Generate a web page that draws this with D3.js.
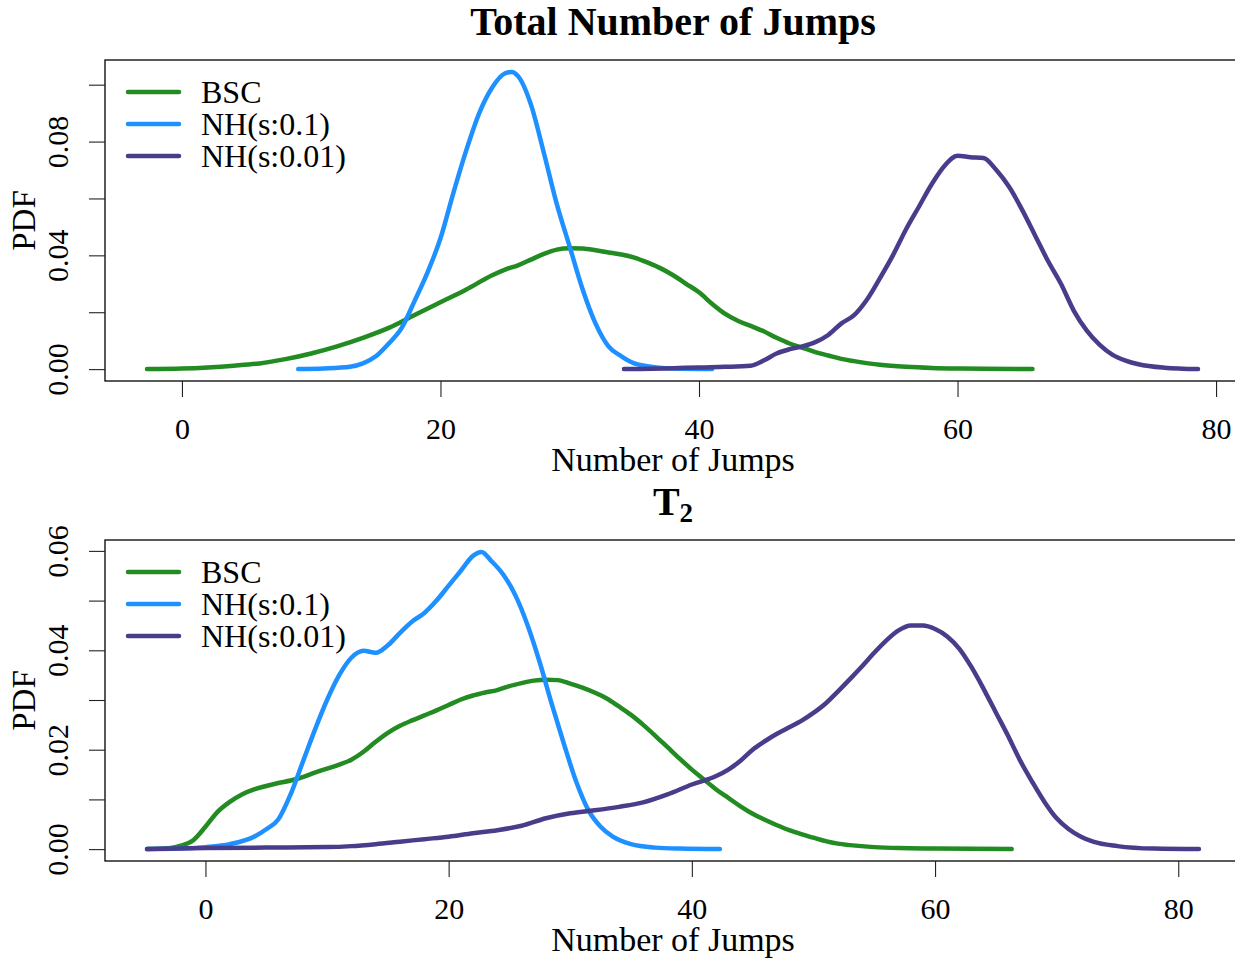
<!DOCTYPE html>
<html>
<head>
<meta charset="utf-8">
<script src="https://cdn.jsdelivr.net/npm/d3@7"></script>
<style>
  body { margin: 0; background: #fff; }
  svg text { font-family: "Liberation Serif", "Times New Roman", serif; fill: #000; }
</style>
</head>
<body>
<div id="main"></div>
<script>
// series names and colours (legend order)
var seriesNames = ["BSC", "NH(s:0.1)", "NH(s:0.01)"];
var seriesColors = ["#228B22", "#1E90FF", "#483D8B"];

// ---- panel 1: total number of jumps (x, pdf)
var totalBSC = [[-2.7,0],[0,0.0002],[2,0.0006],[4,0.0012],[6,0.002],[8,0.0035],[10,0.0055],[12,0.008],
  [14,0.011],[16,0.0145],[18,0.019],[20,0.0235],[22,0.028],[24,0.033],[25,0.035],[26,0.0365],[27,0.0385],
  [28,0.0405],[29,0.042],[30,0.0425],[31,0.0424],[32,0.0418],[33,0.041],[34,0.0403],[35,0.0392],[36,0.0375],
  [37,0.0355],[38,0.033],[39,0.030],[40,0.027],[41,0.023],[42,0.0195],[43,0.017],[44,0.0152],[45,0.0133],
  [46,0.011],[47,0.009],[48,0.0075],[49,0.006],[50,0.0048],[51,0.0036],[52,0.0028],[54,0.0015],[56,0.0008],
  [58,0.0004],[60,0.0002],[62,0.0001],[65.8,0]];
var totalNH01 = [[9,0],[11,0.0002],[13,0.0008],[14,0.002],[15,0.0045],[16,0.009],[17,0.0145],[18,0.024],
  [19,0.034],[20,0.046],[21,0.062],[22,0.077],[23,0.09],[24,0.099],[25,0.104],[25.5,0.1045],[26,0.103],
  [27,0.093],[28,0.076],[29,0.058],[30,0.043],[31,0.028],[32,0.016],[33,0.008],[34,0.0045],[35,0.002],
  [36,0.001],[38,0.0002],[41,0]];
var totalNH001 = [[34.2,0],[38,0.0003],[40,0.0006],[42,0.0008],[44,0.0012],[45,0.003],[46,0.0055],[47,0.007],
  [48,0.008],[49,0.0095],[50,0.012],[51,0.016],[52,0.019],[53,0.0245],[54,0.032],[55,0.04],[56,0.049],
  [57,0.057],[58,0.065],[59,0.0715],[60,0.075],[61,0.0745],[62,0.0742],[63,0.07],[64,0.064],[65,0.056],
  [66,0.047],[67,0.038],[68,0.03],[69,0.0205],[70,0.0135],[71,0.0085],[72,0.005],[73,0.003],[74,0.0017],
  [76,0.0005],[78.6,0]];

// ---- panel 2: T2
var t2BSC = [[-4.8,0],[-3,0.0002],[-2,0.0007],[-1,0.0018],[0,0.0045],[1,0.0075],[2,0.0095],[3,0.011],
  [4,0.012],[5,0.0127],[6,0.0133],[7,0.0138],[8,0.0145],[9,0.0154],[10,0.0162],[11,0.017],[12,0.018],
  [13,0.0196],[14,0.0216],[15,0.0234],[16,0.0248],[17,0.0259],[18,0.0269],[19,0.0279],[20,0.029],[21,0.0301],
  [22,0.0309],[23,0.0315],[24,0.032],[25,0.0328],[26,0.0334],[27,0.0339],[28,0.0341],[29,0.034],[30,0.0333],
  [31,0.0325],[32,0.0315],[33,0.0303],[34,0.0287],[35,0.027],[36,0.025],[37,0.0228],[38,0.0205],[39,0.0182],
  [40,0.016],[41,0.014],[42,0.012],[43,0.0103],[44,0.0086],[45,0.0071],[46,0.0059],[47,0.0048],[48,0.0038],
  [49,0.003],[50,0.0023],[51,0.0016],[52,0.0011],[53,0.0008],[55,0.0004],[57,0.0002],[60,0.0001],[66.3,0]];
var t2NH01 = [[-4.8,0],[-2,0.0001],[0,0.0004],[2,0.001],[4,0.0025],[5,0.004],[6,0.006],[7,0.011],[8,0.0175],
  [9,0.024],[10,0.030],[11,0.035],[12,0.0385],[13,0.0399],[14,0.0395],[15,0.041],[16,0.0435],[17,0.0458],
  [18,0.0475],[19,0.050],[20,0.053],[21,0.056],[22,0.059],[22.7,0.0598],[23.5,0.058],[24.5,0.0552],
  [25.5,0.051],[26.5,0.045],[27.5,0.0375],[28.5,0.029],[29.5,0.021],[30.5,0.0135],[31.5,0.0078],[32.5,0.0045],
  [33.5,0.0025],[35,0.001],[37,0.0003],[39,0.0001],[42.3,0]];
var t2NH001 = [[-4.8,0],[0,0.0002],[5,0.0003],[10,0.0004],[12,0.0006],[14,0.001],[16,0.0015],[18,0.002],
  [20,0.0025],[22,0.0032],[24,0.0038],[26,0.0047],[28,0.0062],[30,0.0072],[32,0.0078],[34,0.0085],[36,0.0094],
  [38,0.011],[40,0.013],[42,0.0147],[43,0.016],[44,0.0178],[45,0.02],[46,0.0217],[47,0.0232],[48,0.0245],
  [49,0.0258],[50,0.0274],[51,0.0293],[52,0.0317],[53,0.0342],[54,0.0368],[55,0.0395],[56,0.042],[57,0.044],
  [58,0.045],[59,0.045],[60,0.0443],[61,0.0428],[62,0.0403],[63,0.0366],[64,0.0322],[65,0.0275],[66,0.0228],
  [67,0.0178],[68,0.0135],[69,0.0095],[70,0.0062],[71,0.004],[72,0.0025],[73,0.0015],[75,0.0006],[78,0.0001],
  [81.7,0]];

// ticks
var xTicks = [0, 20, 40, 60, 80];
var yTicksTop = [0, 0.02, 0.04, 0.06, 0.08, 0.10];
var yLabelsTop = [0, 0.04, 0.08];
var yTicksBottom = [0, 0.01, 0.02, 0.03, 0.04, 0.05, 0.06];
var yLabelsBottom = [0, 0.02, 0.04, 0.06];

var W = 1235, H = 958;

var svg = d3.select("#main")
    .append("svg")
    .attr("width", W)
    .attr("height", H);

// R-style 4% padding around the data range
function padded(ext) {
    var d = (ext[1] - ext[0]) * 0.04;
    return [ext[0] - d, ext[1] + d];
}

function drawPanel(opts) {
    var all = [].concat.apply([], opts.series);
    var x = d3.scaleLinear()
        .domain(padded(d3.extent(all, function(d) { return d[0]; })))
        .range([105, opts.right]);
    var y = d3.scaleLinear()
        .domain(padded([0, d3.max(all, function(d) { return d[1]; })]))
        .range([opts.bottom, opts.top]);

    var g = svg.append("g");

    // curves
    var line = d3.line()
        .x(function(d) { return x(d[0]); })
        .y(function(d) { return y(d[1]); })
        .curve(d3.curveMonotoneX);

    g.selectAll("path.curve")
        .data(opts.series)
        .enter()
        .append("path")
        .attr("class", "curve")
        .attr("d", line)
        .attr("fill", "none")
        .attr("stroke", function(d, i) { return seriesColors[i]; })
        .attr("stroke-width", 4.5)
        .attr("stroke-linecap", "round")
        .attr("stroke-linejoin", "round");

    // box
    g.append("rect")
        .attr("x", 105)
        .attr("y", opts.top)
        .attr("width", opts.right - 105)
        .attr("height", opts.bottom - opts.top)
        .attr("fill", "none")
        .attr("stroke", "#000")
        .attr("stroke-width", 1.3);

    // x axis
    var xAxis = d3.axisBottom(x)
        .tickValues(xTicks)
        .tickSize(16)
        .tickPadding(21)
        .tickFormat(d3.format("d"));
    var gx = g.append("g")
        .attr("transform", "translate(0," + opts.bottom + ")")
        .call(xAxis);
    gx.select(".domain").remove();
    gx.selectAll(".tick line").attr("stroke", "#222").attr("stroke-width", 1.1);
    gx.selectAll(".tick text")
        .style("font-family", "Liberation Serif, serif")
        .style("font-size", "30px");

    // y axis: ticks everywhere, labels only where R kept them
    var yAxis = d3.axisLeft(y)
        .tickValues(opts.yTicks)
        .tickSize(16)
        .tickFormat(function(d) {
            return opts.yLabels.some(function(v) { return Math.abs(v - d) < 1e-9; }) ? d3.format(".2f")(d) : "";
        });
    var gy = g.append("g")
        .attr("transform", "translate(105,0)")
        .call(yAxis);
    gy.select(".domain").remove();
    gy.selectAll(".tick line").attr("stroke", "#222").attr("stroke-width", 1.1);
    gy.selectAll(".tick text")
        .attr("x", 0).attr("y", 0).attr("dy", null)
        .attr("text-anchor", "middle")
        .attr("transform", "translate(-37,0) rotate(-90)")
        .style("font-family", "Liberation Serif, serif")
        .style("font-size", "30px");

    // axis titles
    g.append("text")
        .attr("x", 673)
        .attr("y", opts.bottom + 90)
        .attr("text-anchor", "middle")
        .style("font-size", "34px")
        .text("Number of Jumps");
    g.append("text")
        .attr("transform", "translate(35," + ((opts.top + opts.bottom) / 2) + ") rotate(-90)")
        .attr("text-anchor", "middle")
        .style("font-size", "33px")
        .text("PDF");

    // legend
    var leg = g.append("g");
    seriesNames.forEach(function(name, i) {
        var ly = opts.top + 32 + i * 32;
        leg.append("line")
            .attr("x1", 128).attr("x2", 179)
            .attr("y1", ly).attr("y2", ly)
            .attr("stroke", seriesColors[i])
            .attr("stroke-width", 4.5)
            .attr("stroke-linecap", "round");
        leg.append("text")
            .attr("x", 201)
            .attr("y", ly + 11)
            .style("font-size", "32px")
            .text(name);
    });
}

drawPanel({
    series: [totalBSC, totalNH01, totalNH001],
    top: 60, bottom: 381, right: 1240,
    yTicks: yTicksTop, yLabels: yLabelsTop
});

drawPanel({
    series: [t2BSC, t2NH01, t2NH001],
    top: 540, bottom: 861, right: 1241,
    yTicks: yTicksBottom, yLabels: yLabelsBottom
});

// main titles
svg.append("text")
    .attr("x", 673)
    .attr("y", 35)
    .attr("text-anchor", "middle")
    .style("font-size", "40px")
    .style("font-weight", "bold")
    .text("Total Number of Jumps");

var t2 = svg.append("text")
    .attr("x", 673)
    .attr("y", 515)
    .attr("text-anchor", "middle")
    .style("font-size", "40px")
    .style("font-weight", "bold");
t2.append("tspan").text("T");
t2.append("tspan").attr("dy", 7).style("font-size", "27px").text("2");
</script>
</body>
</html>
